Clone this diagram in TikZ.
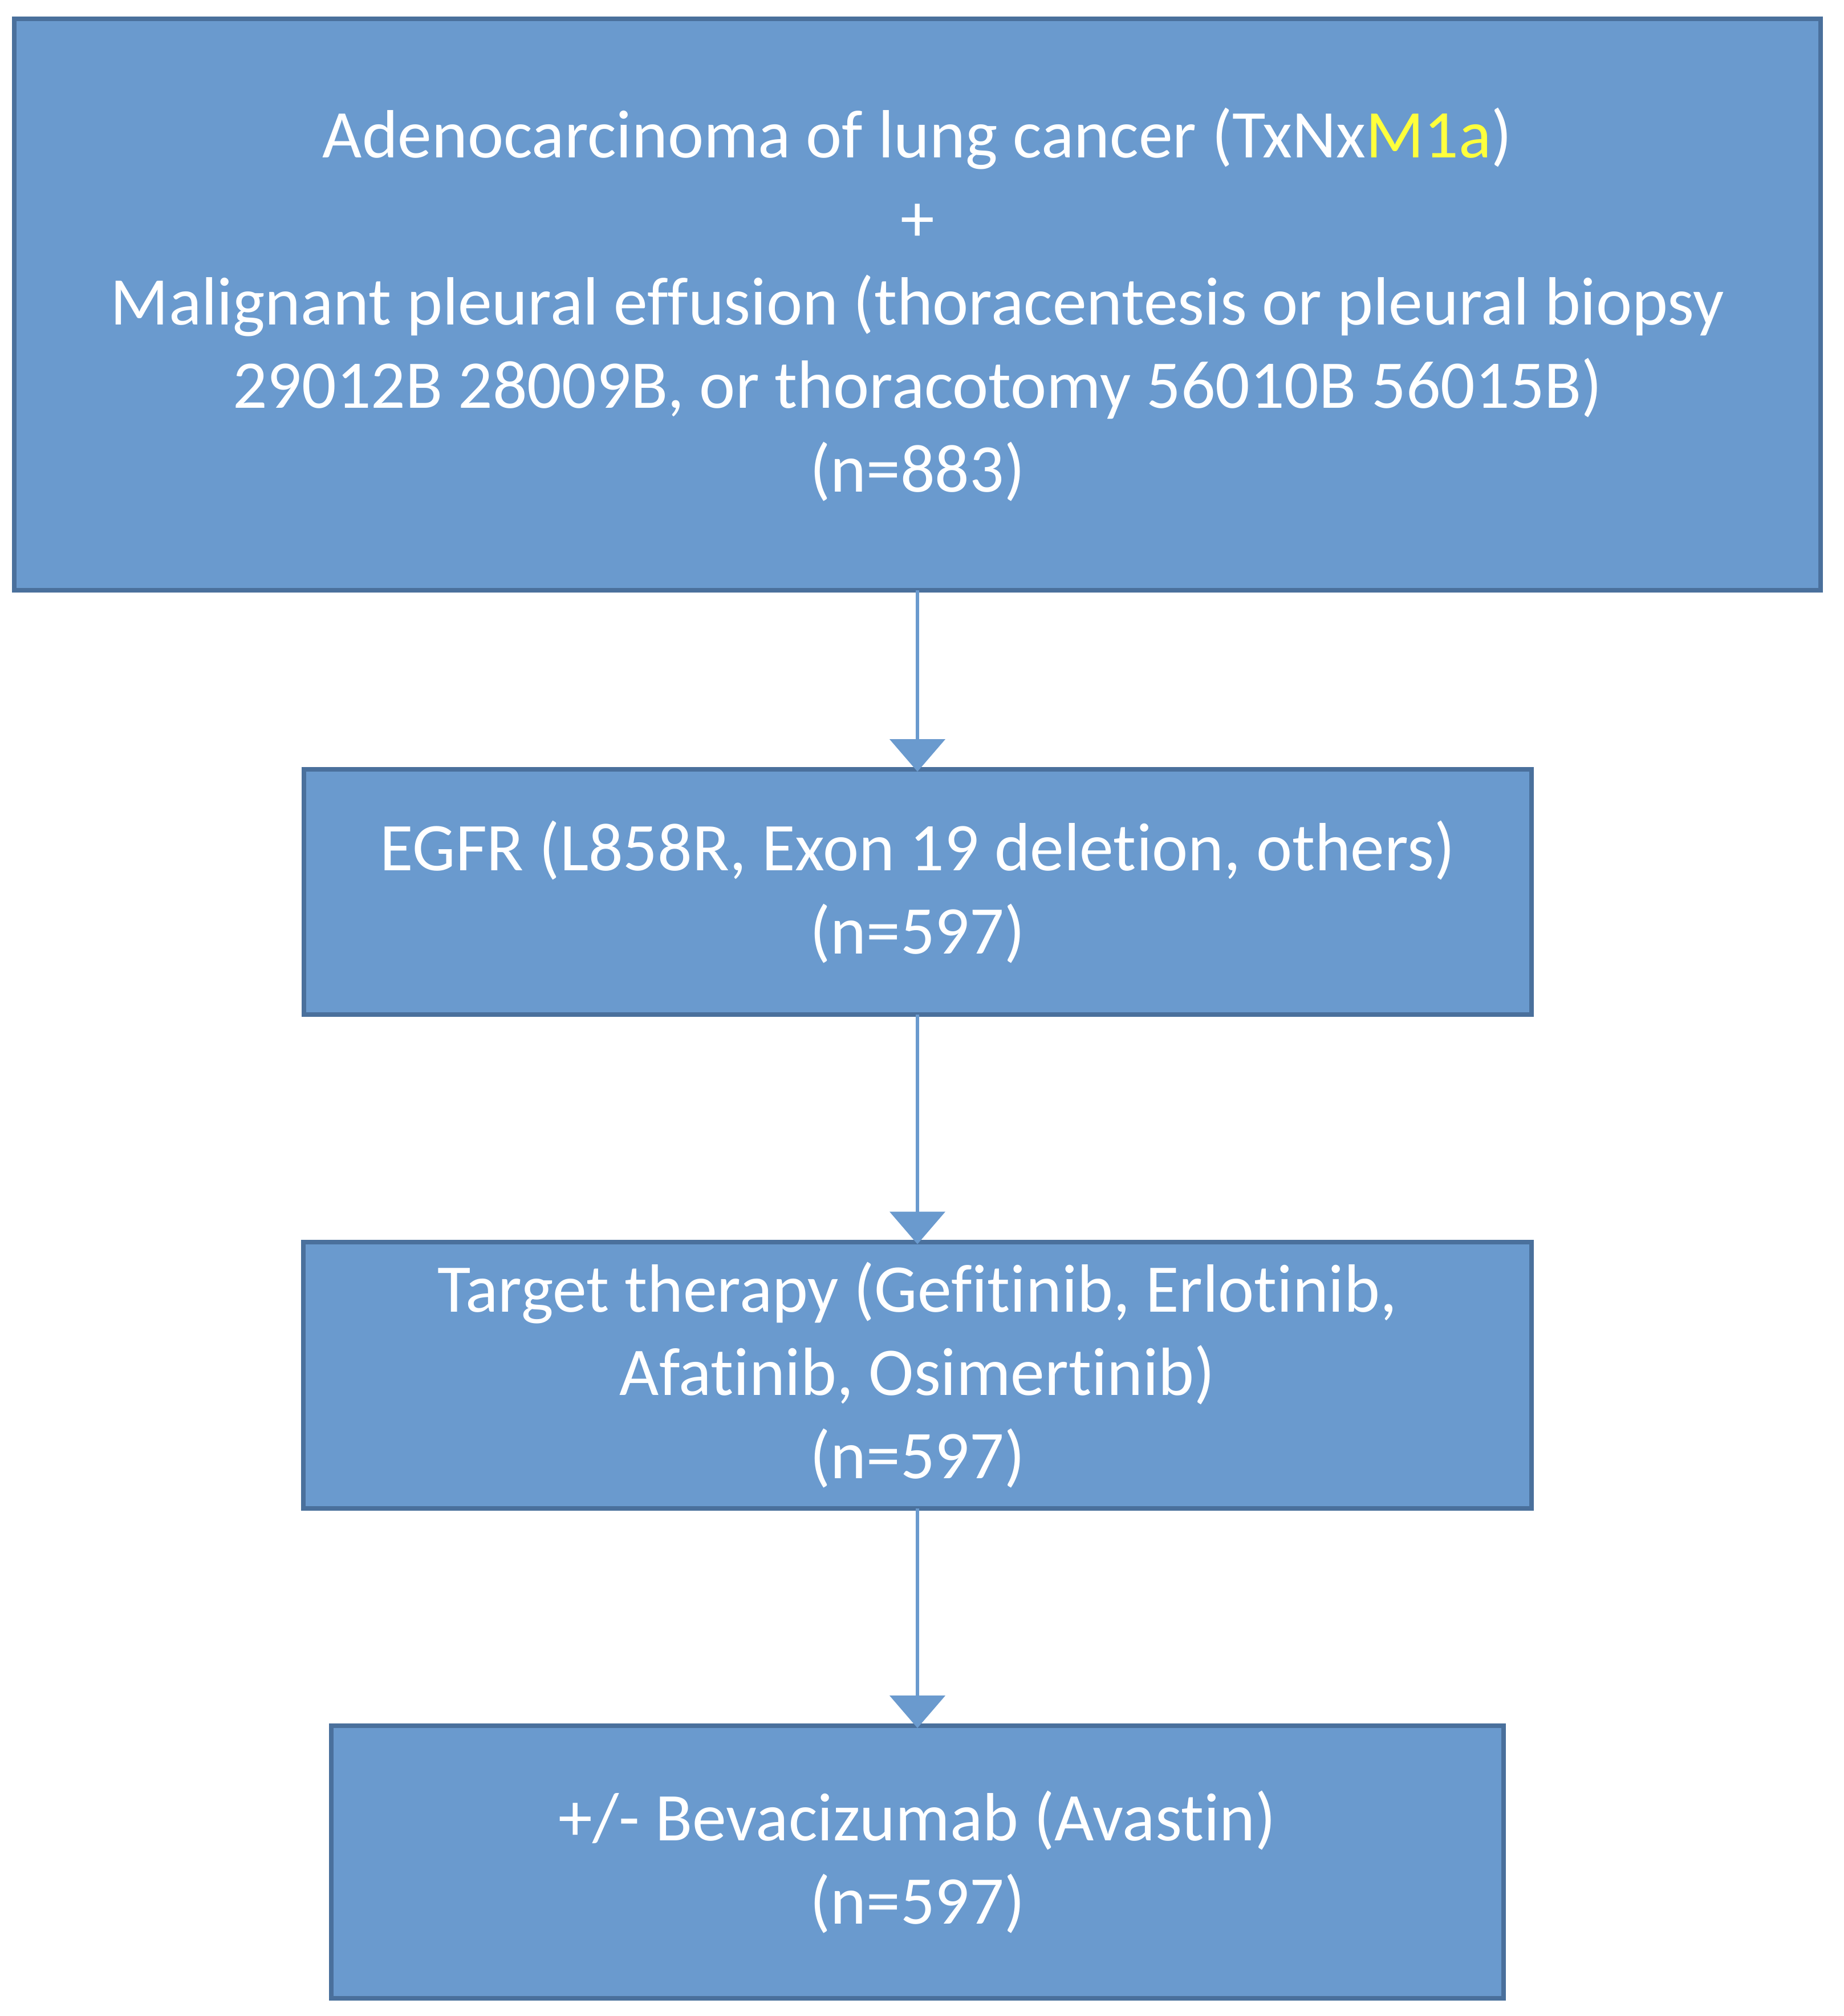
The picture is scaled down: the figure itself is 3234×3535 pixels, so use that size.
\documentclass[tikz,border=0pt]{standalone}
\usepackage{fontspec}
\setmainfont{Carlito}[Ligatures=NoCommon]
\usetikzlibrary{arrows.meta}
\definecolor{boxfill}{RGB}{106,154,206}
\definecolor{boxline}{RGB}{74,112,156}
\definecolor{hiyel}{RGB}{255,255,60}
\begin{document}
\begin{tikzpicture}[x=0.25pt,y=-0.25pt,
  flowbox/.style={draw=boxline,fill=boxfill,line width=2pt,inner sep=0pt,outer sep=0pt,
    align=center,text=white,font=\fontsize{29.9}{36.6}\selectfont},
  flowarrow/.style={draw=boxfill,line width=1.3pt,
    -{Triangle[width=24.25pt,length=14.25pt]},shorten >=-1pt}]
\useasboundingbox (0,0) rectangle (3234,3535);
\node[flowbox,minimum width=792pt,minimum height=250.5pt] (b1) at (1609,534)
  {Adenocarcinoma of lung cancer (TxNx\textcolor{hiyel}{M1a})\\+\\Malignant pleural effusion (thoracentesis or pleural biopsy\\29012B 28009B, or thoracotomy 56010B 56015B)\\(n=883)};
\node[flowbox,minimum width=538.25pt,minimum height=107.5pt] (b2) at (1609,1564)
  {EGFR (L858R, Exon 19 deletion, others)\\(n=597)};
\node[flowbox,minimum width=538.5pt,minimum height=116.75pt] (b3) at (1609,2411)
  {Target therapy (Gefitinib, Erlotinib,\\Afatinib, Osimertinib)\\(n=597)};
\node[flowbox,minimum width=514pt,minimum height=119.5pt] (b4) at (1609,3265)
  {+/- Bevacizumab (Avastin)\\(n=597)};
\draw[flowarrow] (b1.south) -- (b2.north);
\draw[flowarrow] (b2.south) -- (b3.north);
\draw[flowarrow] (b3.south) -- (b4.north);
\end{tikzpicture}
\end{document}
